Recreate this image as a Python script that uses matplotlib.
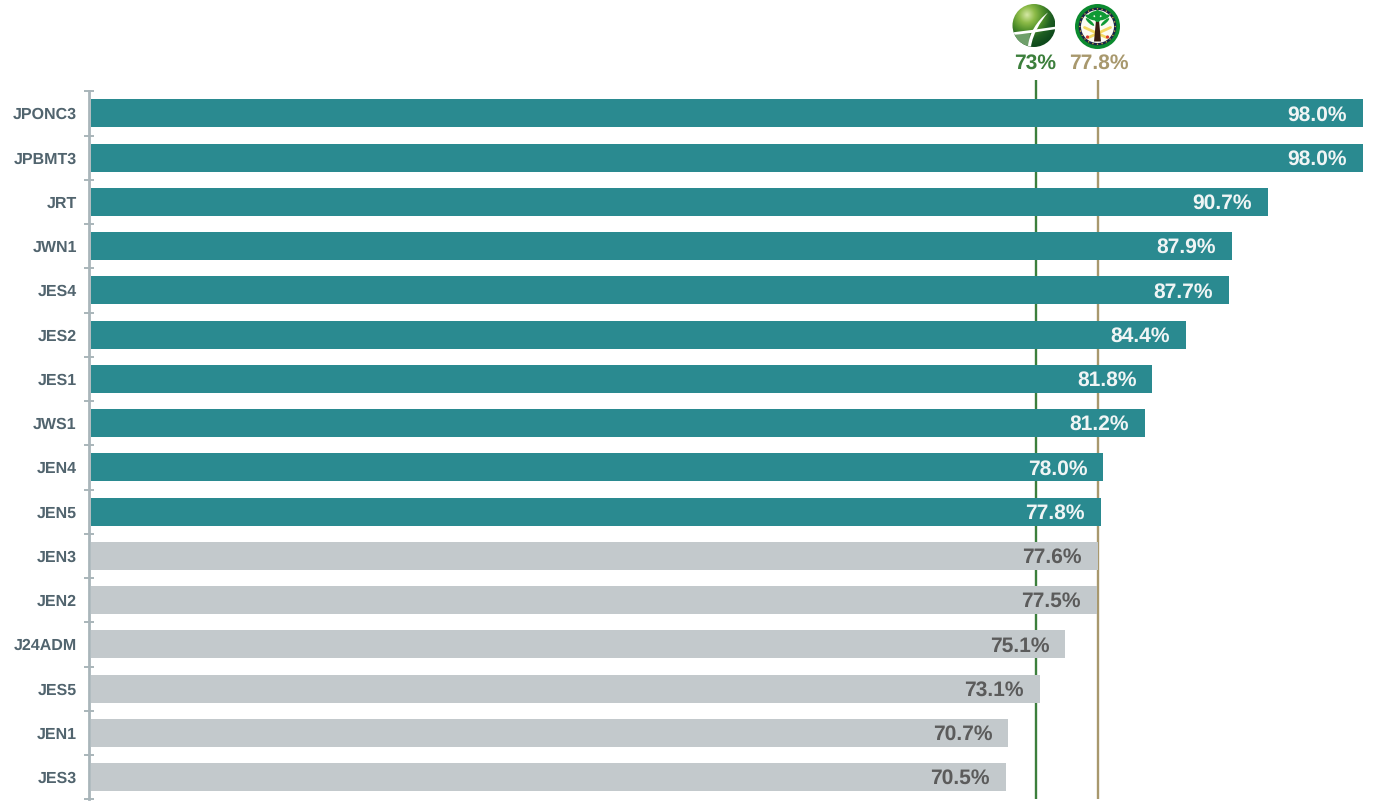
import numpy as np
import matplotlib
matplotlib.use("Agg")
import matplotlib.pyplot as plt
from matplotlib.colors import LinearSegmentedColormap
from matplotlib.patches import Circle, Ellipse, PathPatch, Polygon
from matplotlib.path import Path
from matplotlib.transforms import ScaledTranslation

plt.rcParams["font.family"] = ["Liberation Sans", "DejaVu Sans"]
plt.rcParams["text.hinting"] = "no_hinting"
plt.rcParams["text.hinting_factor"] = 1

# Exam scores per cohort, highest first
cohorts = ["JPONC3", "JPBMT3", "JRT", "JWN1", "JES4", "JES2", "JES1", "JWS1",
           "JEN4", "JEN5", "JEN3", "JEN2", "J24ADM", "JES5", "JEN1", "JES3"]
scores = [98.0, 98.0, 90.7, 87.9, 87.7, 84.4, 81.8, 81.2,
          78.0, 77.8, 77.6, 77.5, 75.1, 73.1, 70.7, 70.5]
benchmarks = [73.0, 77.8]
benchmark_labels = ["73%", "77.8%"]

TEAL = "#2a8a90"
GREY = "#c3c9cc"
GREEN = "#3c7f3c"
TAN = "#a8986d"
AXIS = "#a9b5ba"
INK = "#51646e"

W, H = 1375, 801
fig = plt.figure(figsize=(W / 100, H / 100), dpi=100, facecolor="white")

# Main axes: x is scaled so 100 % would sit just past the right edge
left, right, top, bottom = 90.7, 1375, 91.3, 799.3
ax = fig.add_axes([left / W, 1 - bottom / H, (right - left) / W, (bottom - top) / H])
ax.set_xlim(0, (right - left) / 12.98)
ax.set_ylim(len(cohorts) - 0.5, -0.5)

# Benchmark rules sit a touch left of their value, running up past the axes
nudge = ScaledTranslation(-2.2 / 100, 0, fig.dpi_scale_trans)
for value, colour in zip(benchmarks, [GREEN, TAN]):
    ax.plot([value, value], [0, 1.0155], color=colour, lw=1.7, clip_on=False,
            transform=ax.get_xaxis_transform() + nudge, zorder=1, solid_capstyle="butt")

positions = np.arange(len(cohorts))
bar_colours = [TEAL if s >= benchmarks[1] else GREY for s in scores]
ax.barh(positions, scores, height=0.63, color=bar_colours, zorder=2)

for y, s, c in zip(positions, scores, bar_colours):
    ax.annotate(f"{s:.1f}%", (s, y), xytext=(-11.5, 0.4), textcoords="offset points",
                ha="right", va="center_baseline", fontsize=15.45, fontweight="bold",
                color="#f0f5f5" if c == TEAL else "#5b5b5b", zorder=3)

for y, name in zip(positions, cohorts):
    ax.annotate(name, (0, y), xytext=(-10, 0), textcoords="offset points",
                xycoords=ax.get_yaxis_transform(), ha="right", va="center_baseline",
                fontsize=11.65, fontweight="bold", color=INK)

for side in ["top", "right", "bottom"]:
    ax.spines[side].set_visible(False)
ax.spines["left"].set_color(AXIS)
ax.spines["left"].set_linewidth(2.0)
ax.spines["left"].set_position(("outward", 1.1))
ax.set_xticks([])
ax.set_yticks(positions - 0.5)
ax.set_yticks([len(cohorts) - 0.5], minor=True)
ax.tick_params(axis="y", which="both", direction="inout", length=7.2, width=1.4,
               color=AXIS, labelleft=False)

# Overlay in pixel coordinates for the two emblems and the benchmark captions
ov = fig.add_axes([0, 0, 1, 1], facecolor="none")
ov.set_xlim(0, W)
ov.set_ylim(H, 0)
ov.axis("off")
ov.set_aspect("equal")

for x, text, colour in zip([1035.5, 1099], benchmark_labels, [GREEN, TAN]):
    ov.text(x, 63, text, ha="center", va="center", fontsize=15.45,
            fontweight="bold", color=colour)


def globe(cx, cy, r):
    """Shaded green sphere crossed by a white swoosh."""
    cmap = LinearSegmentedColormap.from_list(
        "globe", ["#d5e8a5", "#8dbb48", "#4f8f2a", "#1f5f22", "#0f4a1c"])
    g = np.linspace(-1, 1, 200)
    xx, yy = np.meshgrid(g, g)
    dist = np.hypot(xx + 0.3, yy + 0.5)
    im = ov.imshow(dist, extent=(cx - r, cx + r, cy + r, cy - r), cmap=cmap,
                   vmin=0, vmax=1.5, zorder=5, interpolation="bilinear", aspect="auto")
    im.set_clip_path(Circle((cx, cy), r, transform=ov.transData))
    sweep = Path([(cx - r - 1, cy + 7), (cx - 5, cy + 5), (cx + 8, cy + 3), (cx + r + 1, cy + 1),
                  (cx + r + 1, cy + 3.5), (cx + 8, cy + 5.5), (cx - 2, cy + 8), (cx - r - 1, cy + 9.5),
                  (cx - r - 1, cy + 7)],
                 [Path.MOVETO, Path.CURVE4, Path.CURVE4, Path.CURVE4,
                  Path.LINETO, Path.CURVE4, Path.CURVE4, Path.CURVE4, Path.CLOSEPOLY])
    blade = Path([(cx - 6, cy + 21), (cx - 5, cy + 8), (cx + 3, cy - 5), (cx + 14, cy - 13),
                  (cx + 6, cy - 3), (cx - 1, cy + 8), (cx - 3, cy + 21), (cx - 6, cy + 21)],
                 [Path.MOVETO, Path.CURVE4, Path.CURVE4, Path.CURVE4,
                  Path.CURVE4, Path.CURVE4, Path.CURVE4, Path.CLOSEPOLY])
    # Softer lower-left quarter below the sweep
    wedge = Polygon([(cx - r - 1, cy + 9), (cx - 4, cy + 8), (cx - 5, cy + r + 1), (cx - r - 1, cy + r + 1)],
                    fc="#6f9f6a", ec="none", zorder=5.5)
    ov.add_patch(wedge)
    wedge.set_clip_path(Circle((cx, cy), r, transform=ov.transData))
    for shape in (sweep, blade):
        patch = PathPatch(shape, fc="white", ec="none", zorder=6)
        ov.add_patch(patch)
        patch.set_clip_path(Circle((cx, cy), r, transform=ov.transData))


def palm_seal(cx, cy, r):
    """Round seal: green rim, dark ring with gold beads, palm over crossed swords."""
    ov.add_patch(Circle((cx, cy), r, fc="#0b8a2e", ec="none", zorder=5))
    ov.add_patch(Circle((cx, cy), r - 3.6, fc="#1b2347", ec="none", zorder=6))
    for a in np.linspace(0, 2 * np.pi, 24, endpoint=False):
        ov.add_patch(Circle((cx + (r - 4.8) * np.cos(a), cy + (r - 4.8) * np.sin(a)), 0.7,
                            fc="#d8b93c", ec="none", zorder=7))
    ov.add_patch(Circle((cx, cy), r - 6, fc="#fbfbf2", ec="none", zorder=7))
    # Crossed swords
    ov.plot([cx - 13, cx + 9], [cy + 1, cy + 11], color="#f4d860", lw=2.0, zorder=8,
            solid_capstyle="round")
    ov.plot([cx + 13, cx - 9], [cy + 1, cy + 11], color="#f4d860", lw=2.0, zorder=8,
            solid_capstyle="round")
    ov.add_patch(Circle((cx - 10, cy + 10.5), 1.6, fc="#d83a2a", ec="none", zorder=8))
    ov.add_patch(Circle((cx + 10, cy + 10.5), 1.6, fc="#d83a2a", ec="none", zorder=8))
    # Trunk and base
    ov.add_patch(Polygon([(cx - 1.5, cy - 6), (cx + 1.5, cy - 6), (cx + 3.5, cy + 15), (cx - 3.5, cy + 15)],
                         fc="#3a1d10", ec="none", zorder=9))
    # Fronds
    for dx, dy, w, h, ang in [(-6.5, -9, 12, 4, 22), (6.5, -9, 12, 4, -22),
                              (-5, -12.5, 10, 4, -28), (5, -12.5, 10, 4, 28),
                              (-7.5, -4.5, 11, 3, 42), (7.5, -4.5, 11, 3, -42),
                              (0, -12.5, 6, 8, 0), (0, -7.5, 6, 6, 0)]:
        ov.add_patch(Ellipse((cx + dx, cy + dy), w, h, angle=ang, fc="#0f9a35", ec="none", zorder=10))


globe(1034, 25.5, 21.5)
palm_seal(1097.5, 26.5, 22.5)
ov.set_xlim(0, W)
ov.set_ylim(H, 0)

fig.savefig("out.png", dpi=100, facecolor="white")
